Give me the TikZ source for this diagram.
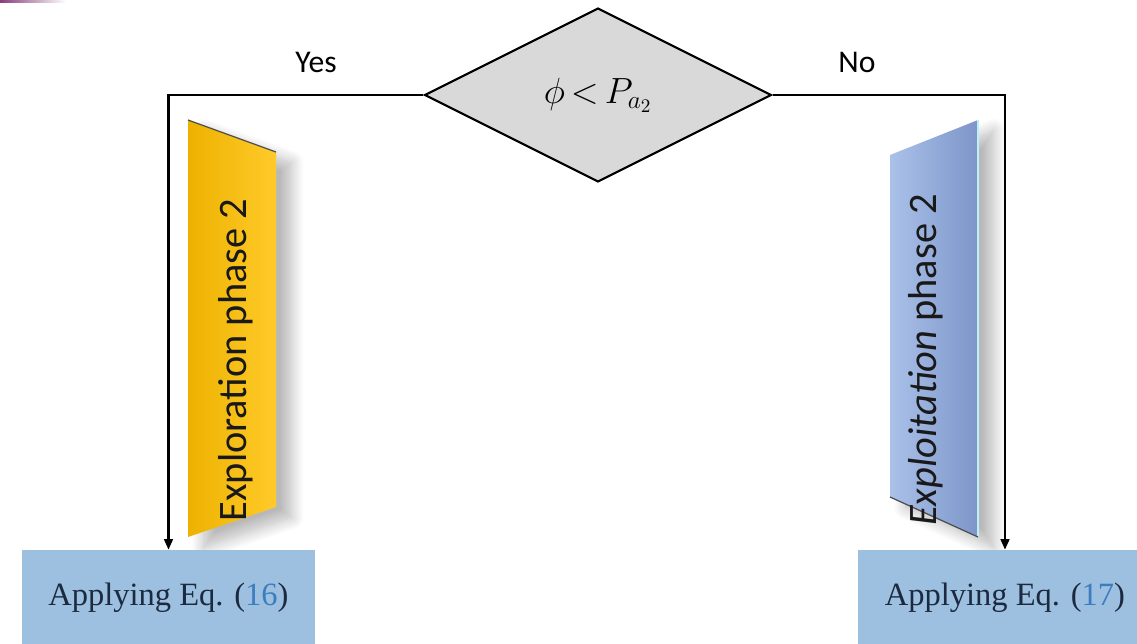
\documentclass[tikz,border=0pt]{standalone}
\usepackage{fontspec}
\setmainfont{Liberation Serif}
\setsansfont{Carlito}
\usepackage{tikz}
\usetikzlibrary{arrows.meta,positioning,shapes.geometric,shadows.blur}
\definecolor{boxblue}{HTML}{9DC0E0}
\definecolor{condgray}{HTML}{D9D9D9}
\definecolor{gold}{HTML}{EDB200}
\definecolor{goldlight}{HTML}{FFCA2A}
\definecolor{steel}{HTML}{7D95C9}
\definecolor{steellight}{HTML}{AAC1E9}
\definecolor{edgecyan}{HTML}{BDEFF7}
\definecolor{eqblue}{HTML}{3C7DBF}
\definecolor{inkblue}{HTML}{1B2A3F}
\definecolor{streak}{HTML}{8A3C7C}

\begin{document}
\begin{tikzpicture}[x=0.02cm,y=-0.02cm,
 cond/.style={diamond,draw=black,line width=1.2pt,fill=condgray,minimum width=6.94cm,minimum height=3.48cm,inner sep=0pt,font=\fontsize{22}{26}\selectfont},
 eqbox/.style={fill=boxblue,minimum width=5.88cm,minimum height=1.92cm,inner sep=0pt,text=inkblue,font=\fontsize{18.5}{22}\selectfont},
 answer/.style={font=\sffamily\fontsize{18}{22}\selectfont},
 phase/.style={rotate=90,text=black!90,font=\sffamily\fontsize{23}{27}\selectfont},
 panelshadow/.style={blur shadow={shadow xshift=9pt,shadow yshift=-6pt,shadow opacity=28,shadow blur radius=7pt,shadow blur steps=14}},
 flow/.style={-{Triangle[length=6pt,width=5pt]},line width=1.2pt,draw=black}
]
\clip (0,0) rectangle (1137,643);
\fill[left color=streak,right color=white] (0,0) rectangle (66,2.5);

\shade[left color=gold,right color=goldlight,panelshadow] (188,120) -- (276,152) -- (276,507) -- (188,537) -- cycle;
\draw[black!70,line width=0.7pt] (188,120) -- (276,152);
\shade[left color=steellight,right color=steel,panelshadow] (890,155) -- (978,120) -- (978,537) -- (890,497) -- cycle;
\draw[edgecyan,line width=1pt] (978,120) -- (978,537);
\draw[black!70,line width=0.7pt] (890,497) -- (978,537);

\node[phase] (explor) at (236,360) {Exploration phase 2};
\node[phase] (exploit) at (926,360) {\textit{Exploitation} phase 2};

\node[cond] (test) at (598,95) {$\phi\,{<}\,P_{a_2}$};
\node[eqbox] (lbox) at (168.5,598) {Applying Eq. (\textcolor{eqblue}{16})};
\node[eqbox] (rbox) at (1005,598) {Applying Eq. (\textcolor{eqblue}{17})};

\node[answer] (yes) at (316,62) {Yes};
\node[answer] (no) at (857,62) {No};

\draw[flow] (test.west) -| (lbox.north);
\draw[flow] (test.east) -| (rbox.north);
\end{tikzpicture}
\end{document}
